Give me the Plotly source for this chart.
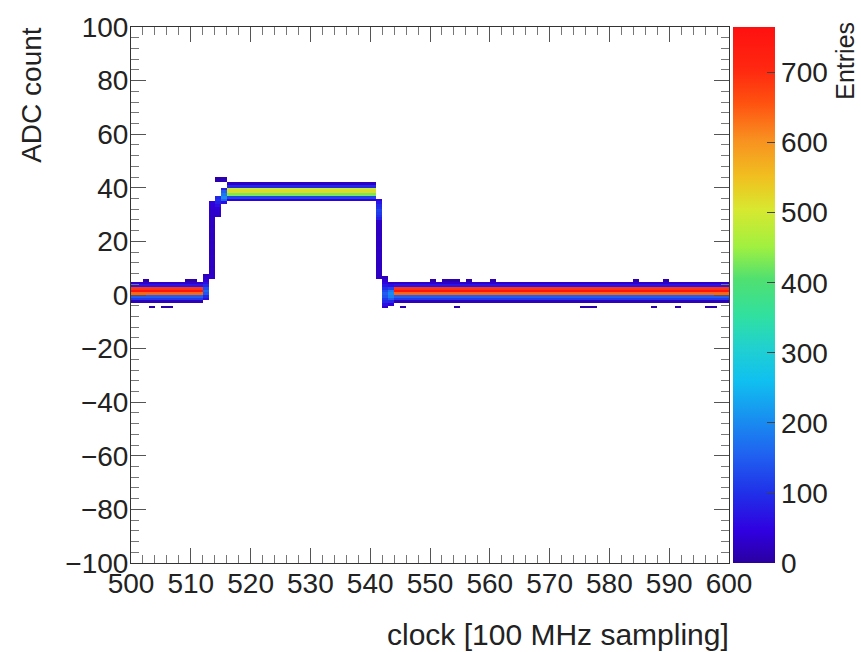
import numpy as np
import plotly.graph_objects as go

# ---------------- data ----------------
clock_lo, clock_hi = 500, 600          # x axis: clock bins, width 1
adc_lo, adc_hi = -100, 100             # y axis: ADC bins, width 1

# baseline profile (ADC bin -> entries) used for baseline clocks
baseline_clocks = list(range(500, 512)) + list(range(544, 600))
baseline_adc = [-3, -2, -1, 0, 1, 2, 3, 4]
baseline_counts = [20, 110, 150, 640, 760, 690, 70, 30]

# plateau profile
plateau_clocks = list(range(516, 541))
plateau_adc = [35, 36, 37, 38, 39, 40, 41]
plateau_counts = [40, 120, 430, 520, 490, 90, 25]

# rising / falling edge bins (clock, adc, entries)
edge_clock = ([512] * 10 +
              [513] * 29 +
              [514] * 10 +
              [515] * 8 +
              [541] * 30 +
              [542] * 12 +
              [543] * 9)
edge_adc = ([-2, -1, 0, 1, 2, 3, 4, 5, 6, 7] +
            [6, 7, 8, 9, 10, 11, 12, 13, 14, 15, 16, 17, 18, 19, 20, 21, 22, 23, 24, 25,
             26, 27, 28, 29, 30, 31, 32, 33, 34] +
            [29, 30, 31, 32, 33, 34, 35, 36, 42, 43] +
            [34, 35, 36, 37, 38, 39, 42, 43] +
            [6, 7, 8, 9, 10, 11, 12, 13, 14, 15, 16, 17, 18, 19, 20, 21, 22, 23, 24, 25,
             26, 27, 28, 29, 30, 31, 32, 33, 34, 35] +
            [-5, -4, -3, -2, -1, 0, 1, 2, 3, 4, 5, 6] +
            [-4, -3, -2, -1, 0, 1, 2, 3, 4])
edge_count = ([60, 90, 140, 160, 130, 90, 60, 40, 30, 20] +
              [30, 28, 26, 25, 24, 25, 26, 24, 25, 23, 24, 25, 26, 24, 25, 24, 23, 25, 26, 24,
               25, 26, 27, 28, 30, 32, 35, 40, 45] +
              [30, 32, 35, 40, 60, 80, 100, 90, 12, 8] +
              [60, 160, 200, 180, 150, 80, 20, 15] +
              [25, 24, 26, 25, 24, 23, 25, 24, 26, 25, 24, 25, 23, 24, 26, 25, 24, 25, 26, 27,
               28, 30, 80, 100, 110, 120, 100, 90, 70, 50] +
              [30, 60, 90, 110, 140, 150, 130, 100, 70, 50, 35, 20] +
              [40, 90, 150, 190, 200, 180, 120, 60, 25])

# isolated noise entries around the baseline
outlier_clock = [502, 503, 505, 506, 509, 510, 545, 550, 552, 553, 554, 554,
                 556, 560, 575, 576, 577, 584, 587, 589, 591, 596, 597]
outlier_adc = [5, -5, -5, -5, 5, 5, -5, 5, 5, 5, 5, -5,
               5, 5, -5, -5, -5, 5, -5, 5, -5, -5, -5]
outlier_count = [8, 6, 5, 7, 6, 9, 10, 8, 12, 10, 9, 7,
                 6, 14, 8, 9, 7, 10, 6, 11, 8, 9, 7]

cbar_ticks = [0, 100, 200, 300, 400, 500, 600, 700]
z_max = 765

# ---------------- build the 2D histogram ----------------
nx = clock_hi - clock_lo
ny = adc_hi - adc_lo
H = np.zeros((ny, nx))


def fill(c, a, w):
    H[a - adc_lo, c - clock_lo] += w


for c in baseline_clocks:
    for a, w in zip(baseline_adc, baseline_counts):
        fill(c, a, w)
for c in plateau_clocks:
    for a, w in zip(plateau_adc, plateau_counts):
        fill(c, a, w)
for c, a, w in zip(edge_clock, edge_adc, edge_count):
    fill(c, a, w)
for c, a, w in zip(outlier_clock, outlier_adc, outlier_count):
    fill(c, a, w)

Z = np.where(H > 0, H, np.nan)
x_centers = np.arange(clock_lo, clock_hi) + 0.5
y_centers = np.arange(adc_lo, adc_hi) + 0.5

colorscale = [
    [0.00, "#2a00a0"],
    [0.06, "#3000e0"],
    [0.13, "#2030e8"],
    [0.20, "#2060f0"],
    [0.27, "#1890f0"],
    [0.34, "#10c0f0"],
    [0.40, "#20d0d0"],
    [0.46, "#30e0a0"],
    [0.53, "#50e070"],
    [0.59, "#a0f040"],
    [0.66, "#d8e830"],
    [0.72, "#f0c020"],
    [0.79, "#f89020"],
    [0.86, "#ff5010"],
    [0.92, "#ff2810"],
    [1.00, "#ff1010"],
]

FONT = "Liberation Sans, Arial, Helvetica, sans-serif"

fig = go.Figure(go.Heatmap(
    x=x_centers, y=y_centers, z=Z,
    zmin=0, zmax=z_max, colorscale=colorscale,
    hoverongaps=False,
    colorbar=dict(
        x=1.0067, xanchor="left", xref="paper", xpad=0, ypad=0,
        y=0.5, yanchor="middle", len=1.0, lenmode="fraction",
        thickness=42, outlinewidth=0,
        tickvals=cbar_ticks, ticks="inside", ticklen=8, tickcolor="#444",
        tickfont=dict(family=FONT, size=28, color="#222"),
    ),
))

axis_common = dict(
    showgrid=False, zeroline=False, showline=True, linecolor="#333",
    linewidth=1, mirror="allticks", ticks="inside", ticklen=15,
    tickcolor="#555", tickwidth=1,
    tickfont=dict(family=FONT, size=28, color="#222"),
)

fig.update_layout(
    width=861, height=652,
    margin=dict(l=131, r=132, t=27, b=89, pad=0, autoexpand=False),
    paper_bgcolor="white", plot_bgcolor="white",
    xaxis=dict(range=[clock_lo, clock_hi], tickmode="linear", tick0=500, dtick=10,
               minor=dict(dtick=2, ticklen=8, ticks="inside", tickcolor="#777"),
               ticklabelstandoff=-5, **axis_common),
    yaxis=dict(range=[adc_lo, adc_hi], tickmode="linear", tick0=-100, dtick=20,
               minor=dict(dtick=4, ticklen=8, ticks="inside", tickcolor="#777"),
               ticklabelstandoff=-4, **axis_common),
    annotations=[
        dict(text="ADC count", xref="paper", yref="paper", x=-0.1656, y=1.004,
             xanchor="center", yanchor="top", textangle=-90, showarrow=False,
             font=dict(family=FONT, size=28, color="#222")),
        dict(text="clock [100 MHz sampling]", xref="paper", yref="paper", x=1.003, y=-0.1325,
             xanchor="right", yanchor="middle", showarrow=False,
             font=dict(family=FONT, size=30, color="#222")),
        dict(text="Entries", xref="paper", yref="paper", x=1.1935, y=1.013,
             xanchor="center", yanchor="top", textangle=-90, showarrow=False,
             font=dict(family=FONT, size=25, color="#222")),
    ],
)

fig.write_html("out.html")
